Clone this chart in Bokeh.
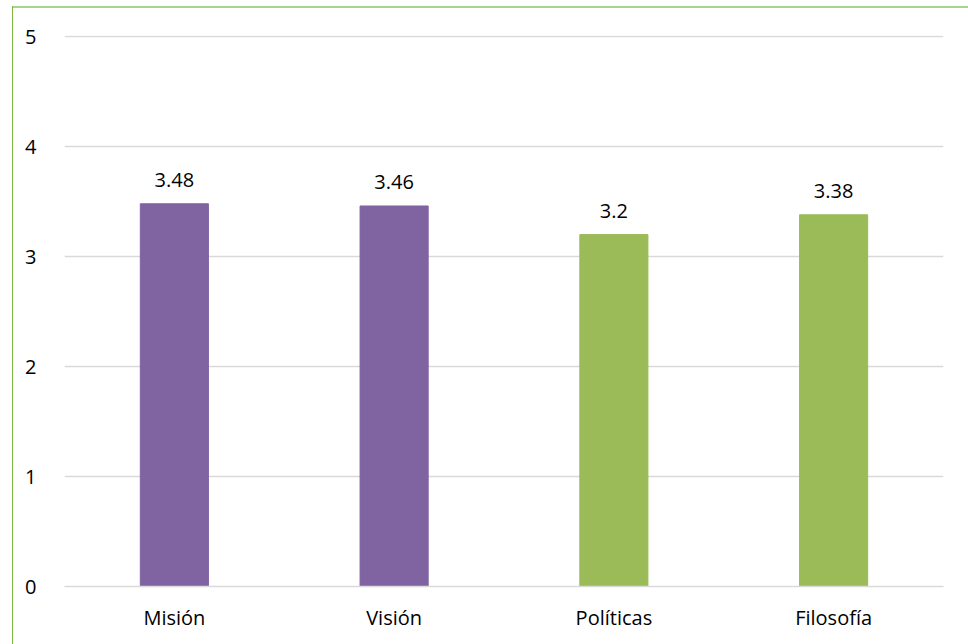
from bokeh.plotting import figure
from bokeh.models import ColumnDataSource, Range1d
from bokeh.core.properties import value
from bokeh.embed import file_html
from bokeh.resources import INLINE

categories = ["Misión", "Visión", "Políticas", "Filosofía"]
values = [3.48, 3.46, 3.2, 3.38]
colors = ["#8064A2", "#8064A2", "#9BBB59", "#9BBB59"]
labels = ["3.48", "3.46", "3.2", "3.38"]
y_ticks = [0, 1, 2, 3, 4, 5]

FONT = "Open Sans"
FS = "20px"

src = ColumnDataSource(dict(cat=categories, val=values, color=colors, lab=labels))

p = figure(x_range=categories, y_range=Range1d(0, 5.01), width=968, height=644,
           output_backend="svg", toolbar_location=None,
           min_border_left=64, min_border_right=25, min_border_top=35, min_border_bottom=58)
p.outline_line_color = None
p.background_fill_color = "white"
p.border_fill_alpha = 0
p.styles = {
    "background": "linear-gradient(#7EB646, #7EB646) 12px 6px / 1px 100% no-repeat, "
                  "linear-gradient(#A9D48C, #A9D48C) 12px 6px / 100% 2px no-repeat, white"
}

p.vbar(x="cat", top="val", width=0.31, color="color", source=src)
p.text(x="cat", y="val", text="lab", source=src, text_align="center",
       text_baseline="alphabetic", y_offset=-24, text_font=value(FONT),
       text_font_size=FS, text_color="#000000")

p.yaxis.ticker = y_ticks
p.yaxis.axis_line_color = None
p.yaxis.major_tick_line_color = None
p.yaxis.minor_tick_line_color = None
p.yaxis.major_label_standoff = 22
p.yaxis.major_label_text_font = FONT
p.yaxis.major_label_text_font_size = FS
p.yaxis.major_label_text_color = "#000000"

p.xaxis.axis_line_color = "#D9D9D9"
p.xaxis.axis_line_width = 1.5
p.xaxis.major_tick_line_color = None
p.xaxis.minor_tick_line_color = None
p.xaxis.major_label_standoff = 11
p.xaxis.major_label_text_font = FONT
p.xaxis.major_label_text_font_size = FS
p.xaxis.major_label_text_color = "#000000"

p.xgrid.grid_line_color = None
p.ygrid.grid_line_color = "#D9D9D9"
p.ygrid.grid_line_width = 1.5

open("out.html", "w").write(file_html(p, INLINE))
